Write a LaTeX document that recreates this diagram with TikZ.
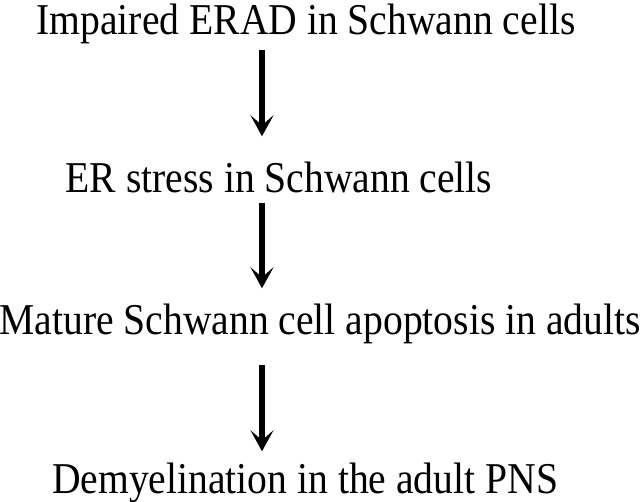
\documentclass[tikz,border=0pt]{standalone}
\usepackage{fontspec}
\setmainfont[FakeStretch=0.9]{Liberation Serif}
\usetikzlibrary{arrows.meta,calc}

\tikzset{
    step text/.style={anchor=base, inner sep=0pt, font=\fontsize{44}{48}\selectfont},
    flow arrow/.style={-{Stealth[length=21pt,width=23pt,inset=10pt]}, line width=5.5pt}
}

\begin{document}
\begin{tikzpicture}[x=1pt, y=-1pt]
    \useasboundingbox (0,0) rectangle (640,502);

    % Steps of the cascade
    \node[step text] (impaired) at (306,35) {Impaired ERAD in Schwann cells};
    \node[step text] (stress) at (279,193) {ER stress in Schwann cells};
    \node[step text] (apoptosis) at (320,335) {Mature Schwann cell apoptosis in adults};
    \node[step text] (demyel) at (305,493) {Demyelination in the adult PNS};

    % Arrows
    \coordinate (col) at (262,0);
    \draw[flow arrow, shorten <=5.5pt, shorten >=26pt] (col |- impaired.south) -- (col |- stress.north);
    \draw[flow arrow, shorten <=9pt, shorten >=16pt] (col |- stress.south) -- (col |- apoptosis.north);
    \draw[flow arrow, shorten <=20.5pt, shorten >=11pt] (col |- apoptosis.south) -- (col |- demyel.north);
\end{tikzpicture}
\end{document}
